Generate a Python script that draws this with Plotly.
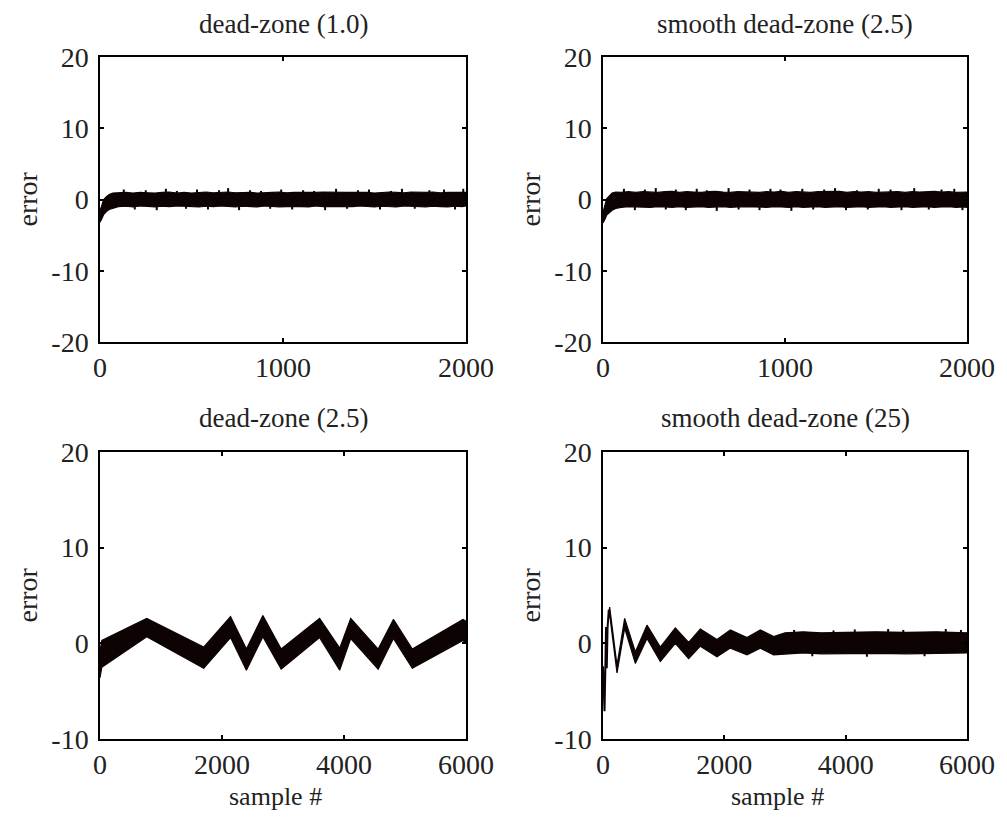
import plotly.graph_objects as go

# top row: edges of the noisy error trace, samples 0..2000
TL_X = [0, 10, 20, 35, 50,
        70, 100, 140, 180, 220,
        260, 300, 340, 380, 420,
        460, 500, 540, 580, 620,
        660, 700, 740, 780, 820,
        860, 900, 940, 980, 1020,
        1060, 1100, 1140, 1180, 1220,
        1260, 1300, 1340, 1380, 1420,
        1460, 1500, 1540, 1580, 1620,
        1660, 1700, 1740, 1780, 1820,
        1860, 1900, 1940, 1980, 2000]
TL_UP = [-1.6, -0.7, 0.0, 0.4, 0.7,
         0.9, 0.95, 1.0, 0.9, 1.0,
         0.95, 0.9, 1.0, 1.05, 0.9,
         1.0, 0.9, 0.95, 1.05, 0.95,
         1.0, 1.05, 0.95, 1.0, 1.0,
         0.9, 1.0, 1.0, 1.05, 0.95,
         1.0, 1.0, 0.9, 1.0, 1.05,
         1.0, 0.95, 1.0, 1.0, 1.05,
         1.0, 0.9, 1.0, 1.05, 1.0,
         0.95, 1.05, 1.0, 1.0, 1.05,
         0.95, 1.0, 1.0, 1.05, 1.0]
TL_LO = [-3.2, -2.7, -2.1, -1.7, -1.4,
         -1.2, -1.0, -0.95, -1.05, -0.9,
         -1.0, -1.05, -0.95, -1.0, -0.9,
         -1.05, -1.0, -1.05, -0.95, -1.0,
         -0.9, -1.0, -1.05, -0.95, -1.0,
         -1.05, -0.9, -1.0, -1.05, -1.0,
         -0.95, -1.0, -1.05, -0.9, -1.0,
         -1.05, -0.95, -1.0, -1.0, -0.9,
         -1.0, -1.05, -0.95, -1.0, -1.05,
         -0.9, -1.0, -1.0, -1.05, -0.95,
         -1.0, -1.05, -0.95, -1.0, -0.9]
TL_SPK_X = [130, 190, 250, 310, 360, 420, 470, 530, 590, 650, 700, 760, 820, 880, 930, 990,
            1050, 1110, 1170, 1230, 1290, 1350, 1410, 1470, 1530, 1590, 1650, 1720, 1800, 1880, 1940, 1985]
TL_SPK_HI = [1.4, 0.3, 1.3, 0.2, 1.5, 1.2, 0.3, 1.4, 0.2, 1.3, 1.6, 0.3, 1.3, 1.2, 0.2, 1.4,
             0.3, 1.3, 1.2, 0.3, 1.5, 0.2, 1.3, 1.4, 0.3, 1.2, 1.5, 0.2, 1.3, 1.4, 0.3, 1.5]
TL_SPK_LO = [-0.3, -1.4, -0.2, -1.5, -0.3, -0.2, -1.3, -0.3, -1.4, -0.2, -0.3, -1.5, -0.2, -0.3, -1.3, -0.2,
             -1.4, -0.3, -0.2, -1.5, -0.3, -1.3, -0.2, -0.3, -1.4, -0.2, -0.3, -1.3, -0.2, -0.3, -1.4, -0.2]

TR_X = TL_X
TR_UP = [-1.8, -0.8, 0.1, 0.5, 0.9,
         1.05, 1.0, 1.1, 1.0, 1.1,
         1.05, 1.0, 1.1, 1.15, 1.0,
         1.1, 1.05, 1.0, 1.1, 1.15,
         1.05, 1.0, 1.1, 1.05, 1.1,
         1.0, 1.1, 1.05, 1.15, 1.0,
         1.1, 1.05, 1.0, 1.1, 1.1,
         1.05, 1.15, 1.0, 1.1, 1.05,
         1.1, 1.0, 1.05, 1.15, 1.1,
         1.0, 1.1, 1.05, 1.1, 1.15,
         1.05, 1.1, 1.0, 1.1, 1.05]
TR_LO = [-3.3, -2.8, -2.2, -1.8, -1.5,
         -1.25, -1.1, -1.0, -1.1, -1.05,
         -1.1, -1.0, -1.05, -1.1, -1.0,
         -1.1, -1.05, -1.0, -1.1, -1.05,
         -1.0, -1.1, -1.05, -1.0, -1.1,
         -1.05, -1.1, -1.0, -1.05, -1.1,
         -1.0, -1.1, -1.05, -1.0, -1.1,
         -1.05, -1.0, -1.1, -1.05, -1.0,
         -1.1, -1.05, -1.0, -1.1, -1.05,
         -1.0, -1.1, -1.05, -1.0, -1.1,
         -1.05, -1.0, -1.1, -1.05, -1.1]
TR_SPK_X = [115, 175, 230, 290, 345, 400, 455, 515, 570, 625, 690, 745, 805, 860, 920, 975,
            1035, 1095, 1155, 1215, 1275, 1335, 1395, 1455, 1515, 1580, 1640, 1710, 1790, 1860, 1930, 1975]
TR_SPK_HI = [1.5, 0.3, 1.4, 1.6, 0.2, 1.4, 0.3, 1.5, 1.3, 0.2, 1.6, 0.3, 1.4, 0.2, 1.5, 1.4,
             0.3, 1.5, 0.2, 1.4, 1.6, 0.3, 1.3, 0.2, 1.5, 1.4, 0.3, 1.6, 0.2, 1.4, 1.5, 0.3]
TR_SPK_LO = [-0.3, -1.5, -0.2, -0.3, -1.4, -0.2, -1.5, -0.3, -0.2, -1.6, -0.3, -1.4, -0.2, -1.5, -0.3, -0.2,
             -1.6, -0.3, -1.4, -0.2, -0.3, -1.5, -0.2, -1.4, -0.3, -0.2, -1.5, -0.3, -1.4, -0.2, -0.3, -1.5]

# bottom row, samples 0..6000
BL_X = [0, 30, 766, 1700, 2140, 2400, 2670, 2970, 3600, 3930, 4110, 4560, 4810, 5120, 5950, 6000]
BL_UP = [-0.8, 0.3, 2.6, -0.4, 2.8, -0.6, 2.9, -0.6, 2.6, -0.5, 2.6, -0.6, 2.5, -0.6, 2.5, 2.3]
BL_LO = [-3.6, -2.5, 0.7, -2.6, 0.6, -2.8, 0.7, -2.7, 0.6, -2.8, 0.5, -2.7, 0.5, -2.6, 0.3, 0.0]

BR_INIT_X = [0, 12, 25, 38, 50, 62, 75, 95]
BR_INIT_Y = [-2.4, -5.2, -7.1, -2.8, 1.7, -2.6, 1.6, 3.5]
BR_X = [95, 110, 231, 357, 533, 725, 945, 1192, 1412, 1604, 1879, 2099,
        2373, 2593, 2813, 3000, 3300, 3600, 4000, 4500, 5000, 5500, 6000]
BR_UP = [3.2, 3.8, -2.3, 2.6, -0.9, 1.9, -0.4, 1.6, 0.1, 1.5, 0.4, 1.4,
         0.6, 1.4, 0.7, 1.1, 1.2, 1.1, 1.15, 1.2, 1.15, 1.2, 1.1]
BR_LO = [2.6, 3.0, -3.1, 1.6, -2.1, 0.5, -1.9, 0.0, -1.6, -0.3, -1.4, -0.5,
         -1.2, -0.5, -1.2, -1.1, -1.0, -1.1, -1.05, -1.05, -1.1, -1.05, -1.0]
BR_SPK_X = [3150, 3450, 3800, 4150, 4350, 4700, 4950, 5300, 5650, 5900]
BR_SPK_HI = [1.4, 0.3, 1.35, 1.45, 0.3, 1.5, 1.4, 0.2, 1.5, 1.4]
BR_SPK_LO = [-0.3, -1.35, -0.2, -0.3, -1.4, -0.3, -0.2, -1.35, -0.3, -0.2]

TITLES = ["dead-zone (1.0)", "smooth dead-zone (2.5)", "dead-zone (2.5)", "smooth dead-zone (25)"]
X_TICKS_TOP = [0, 1000, 2000]
X_TICKS_BOT = [0, 2000, 4000, 6000]
Y_TICKS_TOP = [-20, -10, 0, 10, 20]
Y_TICKS_BOT = [-10, 0, 10, 20]

INK = "#0d0303"
TXT = "#222"
FONT = "Liberation Serif"


def band(x, up, lo, xa, ya):
    return go.Scatter(
        x=list(x) + list(x)[::-1], y=list(up) + list(lo)[::-1],
        xaxis=xa, yaxis=ya, mode="lines", fill="toself",
        fillcolor=INK, line=dict(color=INK, width=1.2),
        hoverinfo="skip",
    )


def spikes(x, hi, lo, xa, ya):
    xs, ys = [], []
    for a, h, l in zip(x, hi, lo):
        xs += [a, a, None]
        ys += [l, h, None]
    return go.Scatter(x=xs, y=ys, xaxis=xa, yaxis=ya, mode="lines",
                      line=dict(color=INK, width=2), hoverinfo="skip")


fig = go.Figure()
fig.add_trace(band(TL_X, TL_UP, TL_LO, "x", "y"))
fig.add_trace(spikes(TL_SPK_X, TL_SPK_HI, TL_SPK_LO, "x", "y"))
fig.add_trace(band(TR_X, TR_UP, TR_LO, "x2", "y2"))
fig.add_trace(spikes(TR_SPK_X, TR_SPK_HI, TR_SPK_LO, "x2", "y2"))
fig.add_trace(band(BL_X, BL_UP, BL_LO, "x3", "y3"))
fig.add_trace(band(BR_X, BR_UP, BR_LO, "x4", "y4"))
fig.add_trace(spikes(BR_SPK_X, BR_SPK_HI, BR_SPK_LO, "x4", "y4"))
fig.add_trace(go.Scatter(x=BR_INIT_X, y=BR_INIT_Y, xaxis="x4", yaxis="y4", mode="lines",
                         line=dict(color=INK, width=2), hoverinfo="skip"))

# page body adds an 8px margin, so lay out in window pixels and shift back
OFF = 8
W, H = 1007 - 2 * OFF, 821 - 2 * OFF
cols = [(100, 466), (603, 967)]
rows = [(57, 342), (452, 739)]


def px_x(p):
    return (p - OFF) / W


def px_y(p):
    return (H - (p - OFF)) / H


axis_common = dict(
    showline=True, linecolor="black", linewidth=1.5, mirror="ticks",
    ticks="inside", ticklen=4, tickwidth=1.5, tickcolor="black",
    showgrid=False, zeroline=False, automargin=False,
    tickfont=dict(family=FONT, size=28, color=TXT),
)

layout = dict(
    width=W, height=H, margin=dict(l=0, r=0, t=0, b=0),
    paper_bgcolor="white", plot_bgcolor="white", showlegend=False,
    font=dict(family=FONT, size=28, color=TXT),
)
specs = [
    ("", 0, 0, [0, 2000], X_TICKS_TOP, [-20, 20], Y_TICKS_TOP),
    ("2", 1, 0, [0, 2000], X_TICKS_TOP, [-20, 20], Y_TICKS_TOP),
    ("3", 0, 1, [0, 6000], X_TICKS_BOT, [-10, 20], Y_TICKS_BOT),
    ("4", 1, 1, [0, 6000], X_TICKS_BOT, [-10, 20], Y_TICKS_BOT),
]
for s, c, r, xr, xt, yr, yt in specs:
    layout["xaxis" + s] = dict(axis_common, domain=[px_x(cols[c][0]), px_x(cols[c][1])],
                               range=xr, tickvals=xt, ticktext=[str(v) for v in xt],
                               ticklabelstandoff=0, anchor="y" + s)
    layout["yaxis" + s] = dict(axis_common, domain=[px_y(rows[r][1]), px_y(rows[r][0])],
                               range=yr, tickvals=yt, ticktext=[str(v) for v in yt],
                               ticklabelstandoff=4, anchor="x" + s)
fig.update_layout(**layout)

ann = []
for i, (s, c, r, *_rest) in enumerate(specs):
    xc = (cols[c][0] + cols[c][1]) / 2
    ann.append(dict(text=TITLES[i], x=px_x(xc), y=px_y(24 if r == 0 else 418),
                    xref="paper", yref="paper", showarrow=False,
                    xanchor="center", yanchor="middle",
                    font=dict(family=FONT, size=27, color=TXT)))
    yc = (rows[r][0] + rows[r][1]) / 2
    ann.append(dict(text="error", x=px_x(27 if c == 0 else 530), y=px_y(yc),
                    xref="paper", yref="paper", showarrow=False, textangle=-90,
                    xanchor="center", yanchor="middle",
                    font=dict(family=FONT, size=28, color=TXT)))
    if r == 1:
        ann.append(dict(text="sample #", x=px_x(xc - 8), y=0,
                        xref="paper", yref="paper", showarrow=False,
                        xanchor="center", yanchor="bottom",
                        font=dict(family=FONT, size=26, color=TXT)))
fig.update_layout(annotations=ann)

fig.write_html("out.html")
